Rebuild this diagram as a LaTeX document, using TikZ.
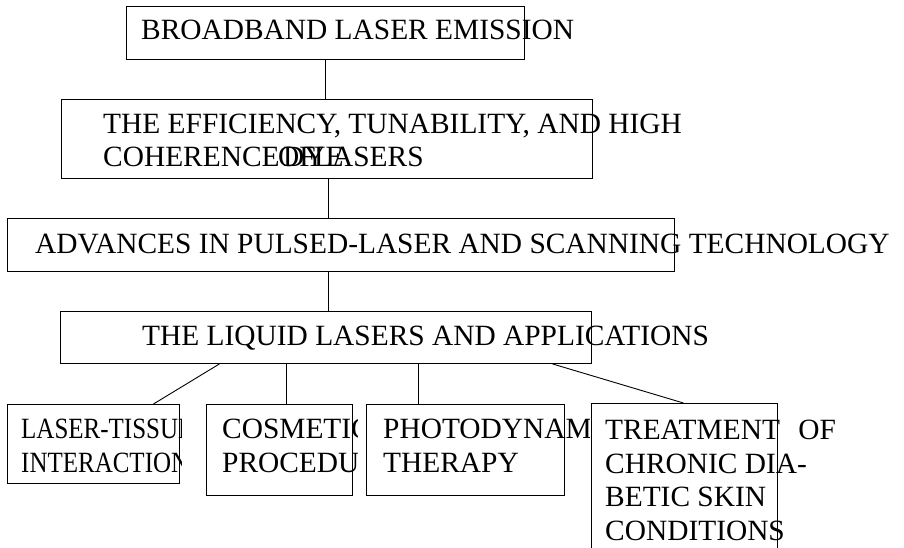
\documentclass[tikz,border=0pt]{standalone}
\usepackage{fontspec}
\setmainfont{Liberation Serif}
\newfontfamily\condfont[FakeStretch=0.85]{Liberation Serif}
\begin{document}
\begin{tikzpicture}[x=1pt,y=-1pt,
  box/.style={draw=black,line width=0.9pt,inner sep=0pt,anchor=north west},
  txt/.style={inner sep=0pt,anchor=base west,font=\fontsize{29.4}{34}\selectfont},
  link/.style={draw=black,line width=0.9pt}]
\useasboundingbox[fill=white] (0,0) rectangle (904,547);

% boxes
\node[box,minimum width=398pt,minimum height=53pt] (a) at (126,6) {};
\node[box,minimum width=531pt,minimum height=79pt] (b) at (61,99) {};
\node[box,minimum width=667pt,minimum height=53pt] (c) at (7,218) {};
\node[box,minimum width=531pt,minimum height=52pt] (d) at (60,311) {};
\node[box,minimum width=172pt,minimum height=79pt] (e1) at (7,404) {};
\node[box,minimum width=146pt,minimum height=91pt] (e2) at (206,404) {};
\node[box,minimum width=198pt,minimum height=91pt] (e3) at (366,404) {};
\node[box,minimum width=186pt,minimum height=167pt] (e4) at (591,403) {};

% texts
\node[txt] (ta) at (141,39) {BROADBAND LASER EMISSION};
\node[txt] (tb1) at (103,133) {THE EFFICIENCY, TUNABILITY, AND HIGH};
\node[txt] (tb2) at (103,166) {COHERENCE};
\node[txt] (tb3) at (278,166) {OF};
\node[txt] (tb4) at (283,166) {DYE};
\node[txt] (tb5) at (314,166) {LASERS};
\node[txt] (tc) at (35,253) {ADVANCES IN PULSED-LASER AND SCANNING TECHNOLOGY};
\node[txt] (td) at (142,345) {THE LIQUID LASERS AND APPLICATIONS};

\begin{scope}
  \clip (e1.north west) rectangle ([xshift=2pt]e1.south east);
  \node[txt,font=\fontsize{29.4}{34}\condfont] (t11) at (21,438) {LASER-TISSUE};
  \node[txt,font=\fontsize{29.4}{34}\condfont] (t12) at (21,472) {INTERACTION};
\end{scope}
\begin{scope}
  \clip (e2.north west) rectangle ([xshift=5pt]e2.south east);
  \node[txt] (t21) at (222,438) {COSMETIC};
  \node[txt] (t22) at (222,472) {PROCEDURES};
\end{scope}
\begin{scope}
  \clip (e3.north west) rectangle ([xshift=-2pt]e4.west |- e3.south);
  \node[txt] (t31) at (383,438) {PHOTODYNAMIC};
  \node[txt] (t32) at (383,472) {THERAPY};
\end{scope}
\node[txt] (t41) at (605,439) {TREATMENT\hspace{11pt} OF};
\node[txt] (t42) at (605,473) {CHRONIC DIA-};
\node[txt] (t43) at (605,506) {BETIC SKIN};
\node[txt] (t44) at (605,540) {CONDITIONS};

% connectors
\draw[link] (a.south) -- (a.south |- b.north);
\draw[link] ([xshift=1pt]b.south) -- ([xshift=1pt]b.south |- c.north);
\draw[link] ([xshift=1pt]b.south |- c.south) -- ([xshift=1pt]b.south |- d.north);
\draw[link] ([xshift=-106.5pt]d.south) -- ([xshift=60pt]e1.north);
\draw[link] ([xshift=-39.5pt]d.south) -- ([xshift=7pt]e2.north);
\draw[link] ([xshift=92.5pt]d.south) -- ([xshift=-47pt]e3.north);
\draw[link] ([xshift=226.5pt]d.south) -- ([xshift=-1pt]e4.north);
\end{tikzpicture}
\end{document}
